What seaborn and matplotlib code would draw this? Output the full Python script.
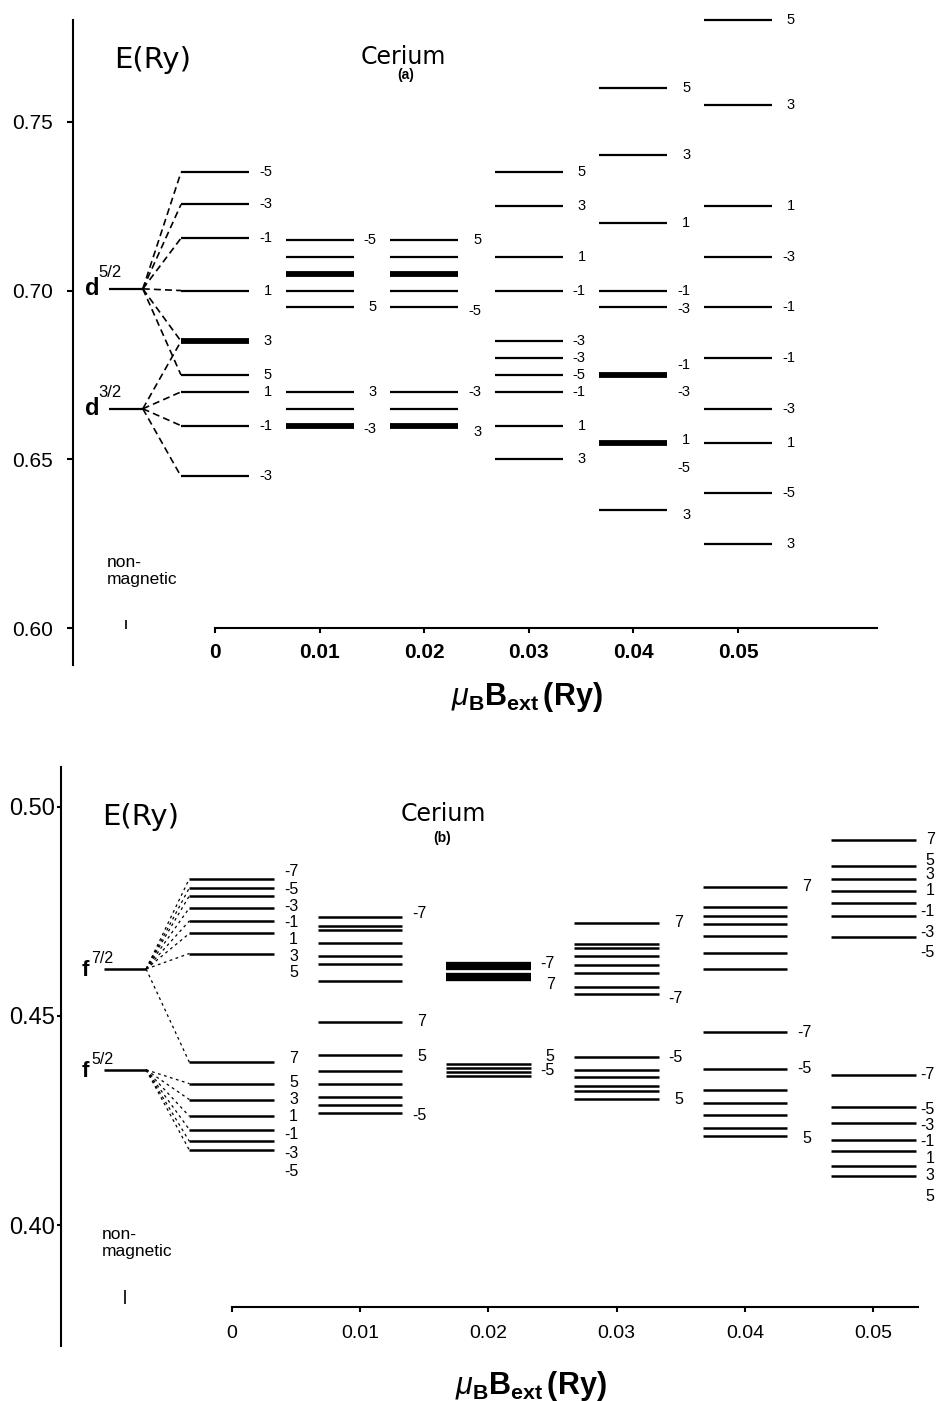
import matplotlib
matplotlib.use("Agg")
import matplotlib.pyplot as plt
import pandas as pd
import seaborn as sns

sns.set_theme(style="white")
plt.rcParams["font.family"] = ["Liberation Sans", "DejaVu Sans"]
plt.rcParams["mathtext.fontset"] = "custom"
plt.rcParams["mathtext.rm"] = "Liberation Sans"
plt.rcParams["mathtext.it"] = "Liberation Sans:italic"
plt.rcParams["mathtext.bf"] = "Liberation Sans:bold"
plt.rcParams["lines.scale_dashes"] = False
plt.rcParams["lines.solid_capstyle"] = "butt"
plt.rcParams["axes.edgecolor"] = "black"
plt.rcParams["axes.labelcolor"] = "black"
plt.rcParams["text.color"] = "black"
plt.rcParams["xtick.color"] = "black"
plt.rcParams["ytick.color"] = "black"

# ---------------- data ----------------
B_VALUES = [0.0, 0.01, 0.02, 0.03, 0.04, 0.05]
B_TICKLABELS = ["0", "0.01", "0.02", "0.03", "0.04", "0.05"]

# panel (a): d levels
A_NM_E = [0.7005, 0.6650]
A_NM_BASE = ["d", "d"]
A_NM_SUP = ["5/2", "3/2"]
A_E = [
    [0.735, 0.7255, 0.7155, 0.700, 0.685, 0.675, 0.670, 0.660, 0.645],
    [0.715, 0.710, 0.705, 0.700, 0.695, 0.670, 0.665, 0.660],
    [0.715, 0.710, 0.705, 0.700, 0.695, 0.670, 0.665, 0.660],
    [0.735, 0.725, 0.710, 0.700, 0.685, 0.680, 0.675, 0.670, 0.660, 0.650],
    [0.760, 0.740, 0.720, 0.700, 0.695, 0.675, 0.655, 0.635],
    [0.780, 0.755, 0.725, 0.710, 0.695, 0.680, 0.665, 0.655, 0.640, 0.625],
]
A_W = [
    [1, 1, 1, 1, 2, 1, 1, 1, 1],
    [1, 1, 2, 1, 1, 1, 1, 2],
    [1, 1, 2, 1, 1, 1, 1, 2],
    [1, 1, 1, 1, 1, 1, 1, 1, 1, 1],
    [1, 1, 1, 1, 1, 2, 2, 1],
    [1, 1, 1, 1, 1, 1, 1, 1, 1, 1],
]
A_LAB = [
    ["-5", "-3", "-1", "1", "3", "5", "1", "-1", "-3"],
    ["-5", "5", "3", "-3"],
    ["5", "-5", "-3", "3"],
    ["5", "3", "1", "-1", "-3", "-3", "-5", "-1", "1", "3"],
    ["5", "3", "1", "-1", "-3", "-1", "-3", "1", "-5", "3"],
    ["5", "3", "1", "-3", "-1", "-1", "-3", "1", "-5", "3"],
]
A_LAB_E = [
    [0.735, 0.7255, 0.7155, 0.700, 0.685, 0.675, 0.670, 0.660, 0.645],
    [0.715, 0.695, 0.670, 0.659],
    [0.715, 0.694, 0.670, 0.658],
    [0.735, 0.725, 0.710, 0.700, 0.685, 0.680, 0.675, 0.670, 0.660, 0.650],
    [0.760, 0.740, 0.720, 0.700, 0.6945, 0.678, 0.670, 0.6557, 0.6475, 0.6335],
    [0.780, 0.755, 0.725, 0.710, 0.695, 0.680, 0.665, 0.655, 0.640, 0.625],
]
A_PARENT = [[0], [0], [0], [0], [0, 1], [0], [1], [1], [1]]

# panel (b): f levels
B_NM_E = [0.4612, 0.4371]
B_NM_BASE = ["f", "f"]
B_NM_SUP = ["7/2", "5/2"]
B_E = [
    [0.4828, 0.4806, 0.4787, 0.4758, 0.4727, 0.4697, 0.4649,
     0.4389, 0.4338, 0.4300, 0.4260, 0.4228, 0.4200, 0.4179],
    [0.4736, 0.4715, 0.4705, 0.4675, 0.4644, 0.4624, 0.4584,
     0.4486, 0.4407, 0.4367, 0.4337, 0.4306, 0.4286, 0.4268],
    [0.4618, 0.4592, 0.4385, 0.4375, 0.4366, 0.4357],
    [0.4723, 0.4672, 0.4662, 0.4642, 0.4622, 0.4602, 0.4570, 0.4553,
     0.4401, 0.4371, 0.4355, 0.4333, 0.4321, 0.4302],
    [0.4809, 0.4760, 0.4739, 0.4720, 0.4691, 0.4651, 0.4612,
     0.4461, 0.4373, 0.4322, 0.4291, 0.4263, 0.4232, 0.4213],
    [0.4920, 0.4859, 0.4827, 0.4799, 0.4769, 0.4739, 0.4689,
     0.4359, 0.4281, 0.4244, 0.4204, 0.4176, 0.4142, 0.4116],
]
B_W = [
    [1] * 14,
    [1] * 14,
    [3, 3, 1, 1, 1, 1],
    [1] * 14,
    [1] * 14,
    [1] * 14,
]
B_LAB = [
    ["-7", "-5", "-3", "-1", "1", "3", "5", "7", "5", "3", "1", "-1", "-3", "-5"],
    ["-7", "7", "5", "-5"],
    ["-7", "7", "5", "-5"],
    ["7", "-7", "-5", "5"],
    ["7", "-7", "-5", "5"],
    ["7", "5", "3", "1", "-1", "-3", "-5", "-7", "-5", "-3", "-1", "1", "3", "5"],
]
B_LAB_E = [
    [0.4845, 0.4803, 0.4761, 0.4722, 0.4682, 0.4643, 0.4603,
     0.4397, 0.4341, 0.4299, 0.4259, 0.4216, 0.4172, 0.4128],
    [0.4745, 0.4486, 0.4403, 0.4263],
    [0.4624, 0.4576, 0.4402, 0.4369],
    [0.4723, 0.4542, 0.4401, 0.4299],
    [0.4809, 0.4461, 0.4373, 0.4208],
    [0.4921, 0.4871, 0.4838, 0.4800, 0.4750, 0.4700, 0.4652,
     0.4359, 0.4277, 0.4237, 0.4200, 0.4160, 0.4118, 0.4068],
]
B_PARENT = [[0]] * 8 + [[1]] * 6


# ---------------- drawing ----------------
def level_frame(cols_E, cols_W, hw):
    rows = []
    lid = 0
    for b, es, ws in zip(B_VALUES, cols_E, cols_W):
        for e, w in zip(es, ws):
            rows.append({"x": b - hw, "E": e, "w": w, "id": lid})
            rows.append({"x": b + hw, "E": e, "w": w, "id": lid})
            lid += 1
    return pd.DataFrame(rows)


def draw_panel(ax, cols_E, cols_W, labs, lab_E, nm_E, nm_base, nm_sup, parents, st):
    df = level_frame(cols_E, cols_W, st["hw"])
    sns.lineplot(data=df, x="x", y="E", units="id", estimator=None, sort=False,
                 size="w", sizes=st["sizes"], color="black", legend=False, ax=ax)
    # non-magnetic levels
    for e, base, sup in zip(nm_E, nm_base, nm_sup):
        ax.plot([st["nm_x"] - st["nm_hw"], st["nm_x"] + st["nm_hw"]], [e, e],
                color="black", lw=st["sizes"][1])
        ax.text(st["name_x"], e + st["name_dy"], base, ha="left", va="baseline",
                fontsize=st["name_fs"], fontweight="bold")
        ax.text(st["sup_x"], e + st["sup_dy"], sup, ha="left", va="baseline",
                fontsize=st["sup_fs"])
    # connectors to zero-field column
    for e, par in zip(cols_E[0], parents):
        for p in par:
            ax.plot([st["nm_x"] + st["nm_hw"], B_VALUES[0] - st["hw"]],
                    [nm_E[p], e], color="black", lw=st["conn_lw"],
                    ls=st["conn_ls"])
    # m_j labels
    for b, ls_, le, off in zip(B_VALUES, labs, lab_E, st["lab_off"]):
        for lab, e in zip(ls_, le):
            ax.text(b + st["hw"] + off, e, lab, ha="right", va="center",
                    fontsize=st["lab_fs"])
    # non-magnetic marker
    ax.plot([st["nm_x"], st["nm_x"]], st["mark_E"], color="black", lw=1.2)
    for ln in ax.get_lines():
        ln.set_clip_on(False)

    ax.set_xlim(st["xlim"])
    ax.set_ylim(st["ylim"])
    for s in ("top", "right"):
        ax.spines[s].set_visible(False)
    for s in ("left", "bottom"):
        ax.spines[s].set_linewidth(1.5)
    ax.spines["bottom"].set_position(("data", st["axis_y"]))
    ax.spines["bottom"].set_bounds(0, st["axis_end"])
    ax.set_xticks(B_VALUES)
    ax.set_xticklabels(B_TICKLABELS, fontsize=st["xt_fs"], fontweight=st["xt_fw"])
    ax.set_yticks(st["yticks"])
    ax.set_yticklabels(st["yticklabels"], fontsize=st["yt_fs"], fontweight=st["yt_fw"])
    ax.tick_params(axis="x", direction="out", length=3.6, width=1.5, pad=st["xt_pad"],
                   bottom=True)
    ax.tick_params(axis="y", direction="out", length=st["yt_len"], width=1.5,
                   pad=st["yt_pad"], left=True)
    ax.set_xlabel(r"$\mu_{\mathbf{B}}\mathbf{B}_{\mathbf{ext}}\,\mathbf{(Ry)}$",
                  fontsize=22)
    ax.xaxis.set_label_coords(*st["xlabel_pos"])
    ax.set_ylabel("")
    ax.grid(False)


fig = plt.figure(figsize=(9.4, 14.01), dpi=100)
axA = fig.add_axes([0.07734, 0.52534, 0.92266, 0.46039])
axB = fig.add_axes([0.064894, 0.039258, 0.935106, 0.413276])

styleA = dict(hw=0.00325, nm_x=-0.0085, nm_hw=0.0016, sizes={1: 1.6, 2: 4.2},
              conn_lw=1.2, conn_ls=(0, (5, 3)),
              name_x=-0.01243, name_dy=-0.0018, name_fs=17,
              sup_x=-0.01115, sup_dy=0.0036, sup_fs=12,
              lab_off=[0.0022] * 6, lab_fs=10.5,
              mark_E=[0.5999, 0.6025],
              xlim=(-0.013604, 0.069312), ylim=(0.589136, 0.780106),
              axis_y=0.60, axis_end=0.0633, xt_fs=15, xt_fw="bold", xt_pad=7,
              yticks=[0.60, 0.65, 0.70, 0.75],
              yticklabels=["0.60", "0.65", "0.70", "0.75"], yt_fs=15, yt_fw="normal",
              yt_len=4.3, yt_pad=10, xlabel_pos=(0.524, -0.024))
styleB = dict(hw=0.0033, nm_x=-0.0083, nm_hw=0.00163, sizes={1: 1.8, 3: 6.0},
              conn_lw=0.9, conn_ls=(0, (2, 2.5)),
              name_x=-0.01167, name_dy=-0.0017, name_fs=16,
              sup_x=-0.01095, sup_dy=0.0015, sup_fs=11.5,
              lab_off=[0.00187] * 5 + [0.00148], lab_fs=11.5,
              mark_E=[0.3812, 0.3845],
              xlim=(-0.013305, 0.055207), ylim=(0.371080, 0.509489),
              axis_y=0.38047, axis_end=0.0535, xt_fs=14, xt_fw="normal", xt_pad=9.5,
              yticks=[0.40, 0.45, 0.50],
              yticklabels=["0.40", "0.45", "0.50"], yt_fs=17, yt_fw="normal",
              yt_len=3.0, yt_pad=1, xlabel_pos=(0.534, -0.040))

draw_panel(axA, A_E, A_W, A_LAB, A_LAB_E, A_NM_E, A_NM_BASE, A_NM_SUP, A_PARENT, styleA)
draw_panel(axB, B_E, B_W, B_LAB, B_LAB_E, B_NM_E, B_NM_BASE, B_NM_SUP, B_PARENT, styleB)


def px(x, y):
    return x / 940.0, 1.0 - y / 1401.0


# panel texts
fig.text(*px(153, 60), "E(Ry)", ha="center", va="center", fontsize=21,
         family=["DejaVu Sans"])
fig.text(*px(403, 57), "Cerium", ha="center", va="center", fontsize=17,
         family=["DejaVu Sans"])
fig.text(*px(406, 75), "(a)", ha="center", va="center", fontsize=10,
         fontweight="bold")
fig.text(*px(107, 571), "non-\nmagnetic", ha="left", va="center", fontsize=12.5,
         linespacing=1.15)

fig.text(*px(141, 817), "E(Ry)", ha="center", va="center", fontsize=21,
         family=["DejaVu Sans"])
fig.text(*px(443, 814), "Cerium", ha="center", va="center", fontsize=17,
         family=["DejaVu Sans"])
fig.text(*px(442, 838), "(b)", ha="center", va="center", fontsize=10,
         fontweight="bold")
fig.text(*px(102, 1243), "non-\nmagnetic", ha="left", va="center", fontsize=12.5,
         linespacing=1.15)

fig.savefig("out.png", dpi=100)
